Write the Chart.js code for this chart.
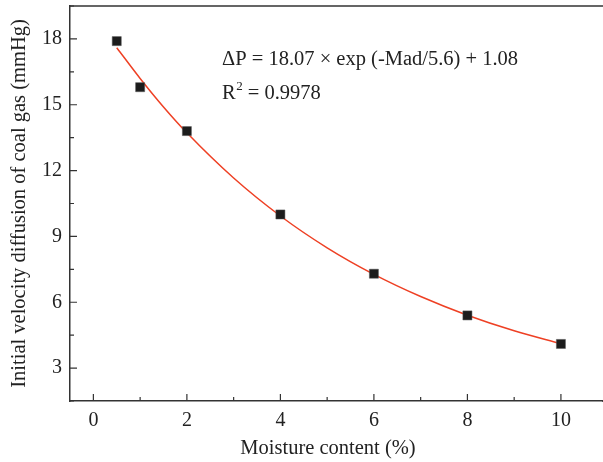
<!DOCTYPE html>
<html>
<head>
<meta charset="utf-8">
<script src="https://cdn.jsdelivr.net/npm/chart.js@4.4.1/dist/chart.umd.min.js"></script>
<style>
  html, body { margin: 0; padding: 0; background: #fff; }
  #wrap { width: 603px; height: 462px; }
</style>
</head>
<body>
<div id="wrap"><canvas id="c" width="603" height="462"></canvas></div>
<script>
// Measured points
const moisture = [0.5, 1, 2, 4, 6, 8, 10];
const velocity = [17.9, 15.8, 13.8, 10.0, 7.3, 5.4, 4.1];
// Fitted curve
const fitX = [0.5, 1, 1.5, 2, 3, 4, 5, 6, 7, 8, 9, 10];
const fitY = [17.6, 16.2, 14.9, 13.72, 11.66, 9.93, 8.48, 7.27, 6.26, 5.41, 4.70, 4.11];
// Tick labels
const xTicks = [0, 2, 4, 6, 8, 10];
const xMinorTicks = [1, 3, 5, 7, 9];
const yTicks = [3, 6, 9, 12, 15, 18];
const yMinorTicks = [1.5, 4.5, 7.5, 10.5, 13.5, 16.5, 19.5];
const xTitle = 'Moisture content (%)';
const yTitle = 'Initial velocity diffusion of coal gas (mmHg)';
const eqLine1 = 'ΔP = 18.07 × exp (-Mad/5.6) + 1.08';
const eqLine2a = 'R';
const eqLine2b = '2';
const eqLine2c = ' = 0.9978';

const FONT = '"Liberation Serif", "DejaVu Serif", serif';
const AXIS = '#333';
const FS = 20;

function zeroPad(s) { s.paddingTop = 0; s.paddingBottom = 0; s.paddingLeft = 0; s.paddingRight = 0; }

const decor = {
  id: 'decor',
  afterDraw(chart) {
    const ctx = chart.ctx;
    const xs = chart.scales.x, ys = chart.scales.y;
    const a = chart.chartArea;
    ctx.save();
    ctx.strokeStyle = AXIS;
    ctx.lineWidth = 1.5;
    ctx.beginPath();
    ctx.moveTo(a.left, a.top);
    ctx.lineTo(chart.width, a.top);
    ctx.moveTo(a.right - 1, a.bottom);
    ctx.lineTo(chart.width, a.bottom);
    ctx.stroke();
    ctx.lineWidth = 1.2;
    ctx.beginPath();
    xTicks.forEach(v => { const p = xs.getPixelForValue(v); ctx.moveTo(p, a.bottom); ctx.lineTo(p, a.bottom - 7); });
    xMinorTicks.forEach(v => { const p = xs.getPixelForValue(v); ctx.moveTo(p, a.bottom); ctx.lineTo(p, a.bottom - 4); });
    yTicks.forEach(v => { const p = ys.getPixelForValue(v); ctx.moveTo(a.left, p); ctx.lineTo(a.left + 7, p); });
    yMinorTicks.forEach(v => { const p = ys.getPixelForValue(v); ctx.moveTo(a.left, p); ctx.lineTo(a.left + 4, p); });
    ctx.stroke();
    ctx.fillStyle = '#222';
    // x-axis title
    ctx.font = '20.5px ' + FONT;
    ctx.textAlign = 'center';
    ctx.textBaseline = 'middle';
    ctx.fillText(xTitle, 328, 449);
    // equation
    ctx.textBaseline = 'alphabetic';
    ctx.textAlign = 'left';
    const tx = 222;
    ctx.fillText(eqLine1, tx, 65);
    ctx.fillText(eqLine2a, tx, 99);
    const w = ctx.measureText(eqLine2a).width;
    ctx.font = '13px ' + FONT;
    ctx.fillText(eqLine2b, tx + w + 0.5, 90);
    const w2 = ctx.measureText(eqLine2b).width;
    ctx.font = '20.5px ' + FONT;
    ctx.fillText(eqLine2c, tx + w + w2 + 0.5, 99);
    ctx.restore();
  }
};

new Chart(document.getElementById('c'), {
  type: 'scatter',
  data: {
    datasets: [
      {
        label: 'Fit',
        data: fitX.map((x, i) => ({ x, y: fitY[i] })),
        showLine: true,
        borderColor: 'rgb(238,64,36)',
        borderWidth: 1.5,
        pointRadius: 0,
        cubicInterpolationMode: 'monotone',
        fill: false,
        order: 2
      },
      {
        label: 'Data',
        data: moisture.map((x, i) => ({ x, y: velocity[i] })),
        showLine: false,
        pointStyle: 'rect',
        pointRadius: 6.4,
        backgroundColor: '#1c1c1c',
        borderColor: '#555',
        borderWidth: 0.5,
        order: 1
      }
    ]
  },
  options: {
    responsive: false,
    animation: false,
    devicePixelRatio: 1,
    layout: { autoPadding: false, padding: { top: 6, right: 0, left: 0, bottom: 0 } },
    plugins: { legend: { display: false }, tooltip: { enabled: false } },
    scales: {
      x: {
        type: 'linear',
        min: -0.5,
        max: 10.9,
        afterBuildTicks: s => { s.ticks = xTicks.map(v => ({ value: v })); },
        afterFit: s => { s.height = 61; zeroPad(s); },
        grid: { display: false, drawTicks: false },
        border: { display: true, color: AXIS, width: 1.5 },
        ticks: { color: '#222', font: { family: FONT, size: FS }, padding: 8, maxRotation: 0 },
        title: { display: false }
      },
      y: {
        type: 'linear',
        min: 1.5,
        max: 19.5,
        afterBuildTicks: s => { s.ticks = yTicks.map(v => ({ value: v })); },
        afterFit: s => { s.width = 70; zeroPad(s); },
        grid: { display: false, drawTicks: false },
        border: { display: true, color: AXIS, width: 1.5 },
        ticks: { color: '#222', font: { family: FONT, size: FS }, padding: 8 },
        title: { display: true, text: yTitle, color: '#222', font: { family: FONT, size: 20.5 }, padding: { top: 7, bottom: 0 } }
      }
    }
  },
  plugins: [decor]
});
</script>
</body>
</html>
